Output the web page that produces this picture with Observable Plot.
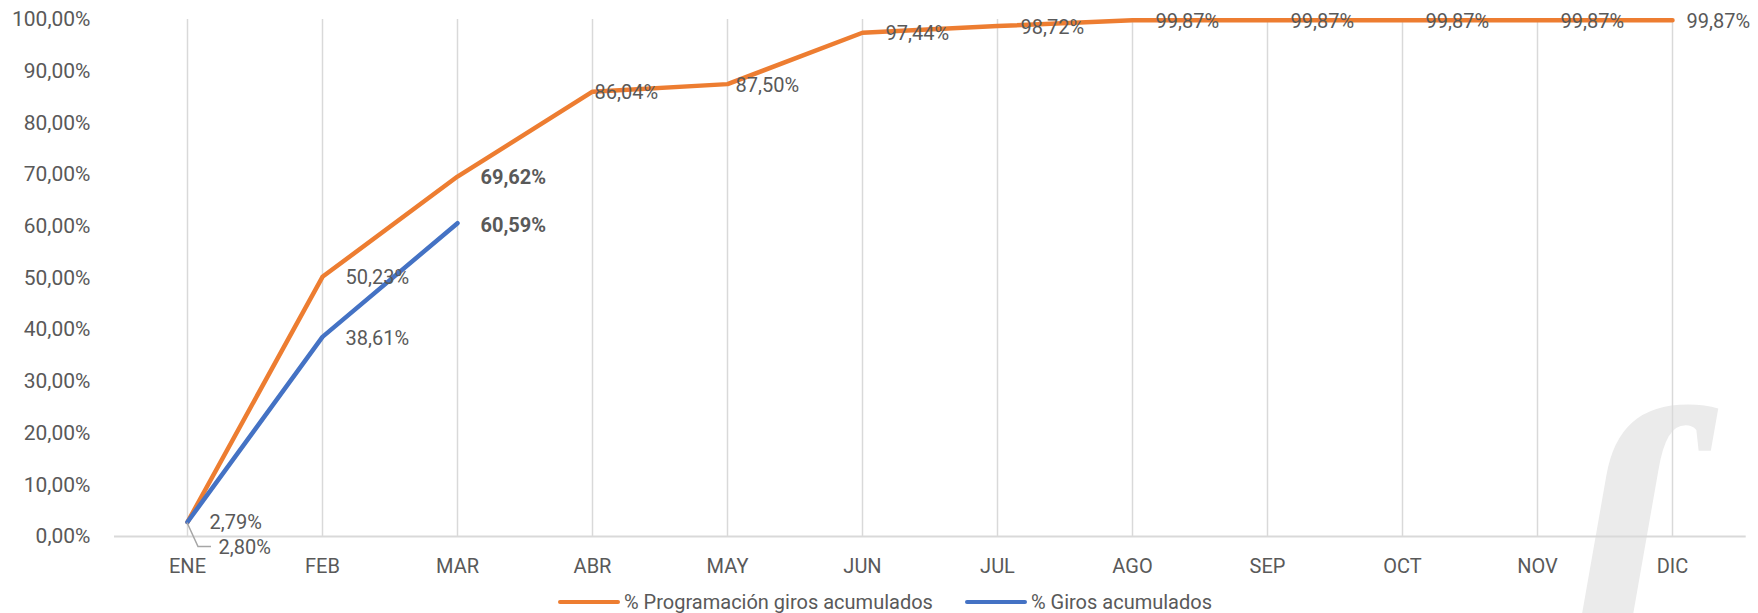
<!DOCTYPE html>
<html>
<head>
<meta charset="utf-8">
<script src="https://cdn.jsdelivr.net/npm/d3@7"></script>
<script src="https://cdn.jsdelivr.net/npm/@observablehq/plot@0.6"></script>
<style>
  html, body { margin: 0; padding: 0; background: #fff; overflow: hidden; }
  body { width: 1758px; height: 613px; position: relative; font-family: Roboto, "Liberation Sans", sans-serif; }
  #wm { position: absolute; left: 1556px; top: 352px; font-family: "Liberation Serif", "DejaVu Serif", serif; font-style: italic; font-weight: bold; font-size: 390px; line-height: 1; color: #ebebeb; z-index: 0; user-select: none; }
  #chart { position: relative; z-index: 1; }
  #chart svg { background: transparent; display: block; }
  #legend { position: relative; z-index: 1; display: flex; justify-content: center; align-items: center; gap: 32px; height: 28px; padding-left: 12px; font-size: 20px; color: #595959; }
  .item { display: flex; align-items: center; gap: 4px; }
  .sw { width: 62px; height: 4px; border-radius: 2px; }
</style>
</head>
<body>
<div id="wm">ſ</div>
<div id="chart"></div>
<div id="legend"></div>
<script>
// ---- data ----
const months = ["ENE", "FEB", "MAR", "ABR", "MAY", "JUN", "JUL", "AGO", "SEP", "OCT", "NOV", "DIC"];
const programacion = [2.79, 50.23, 69.62, 86.04, 87.50, 97.44, 98.72, 99.87, 99.87, 99.87, 99.87, 99.87];
const giros = [2.80, 38.61, 60.59];
const seriesNames = ["% Programación giros acumulados", "% Giros acumulados"];
const seriesColors = ["#ED7D31", "#4472C4"];

// ---- layout / style (not data) ----
const FONT = 'Roboto, "Liberation Sans", sans-serif';
const progLabelOffset = {ENE: [22, 1], ABR: [2, 1], MAY: [8, 1], DIC: [14, 1]};
const progDefault = [23, 1];
const girosLabelOffset = {ENE: [31, 26]};
const girosDefault = [23, 2];
const boldMonth = "MAR";

const fmt = v => v.toFixed(2).replace(".", ",") + "%";

const progRows = programacion.map((v, i) => ({m: months[i], v}));
const girosRows = giros.map((v, i) => ({m: months[i], v}));

function labels(rows, offsets, def) {
  return rows.map(r => {
    const [dx, dy] = offsets[r.m] || def;
    return Plot.text([r], {
      x: "m", y: "v", text: d => fmt(d.v),
      dx, dy, textAnchor: "start", lineAnchor: "middle",
      fill: "#595959", fontSize: 20,
      fontWeight: r.m === boldMonth ? "bold" : "normal"
    });
  });
}

const plot = Plot.plot({
  width: 1758,
  height: 588,
  marginLeft: 114,
  marginRight: 12.3,
  marginTop: 19,
  marginBottom: 52,
  style: {fontFamily: FONT, fontSize: "21px", color: "#595959", background: "transparent", overflow: "visible"},
  x: {type: "point", domain: months, padding: 0.5, label: null, tickSize: 0, tickPadding: 22},
  y: {domain: [0, 100], ticks: 10, tickFormat: d => fmt(d), label: null, tickSize: 0, tickPadding: 24},
  marks: [
    Plot.ruleX(months, {x: d => d, y1: 0, y2: 100, stroke: "#d9d9d9", strokeWidth: 1.5}),
    Plot.ruleY([0], {stroke: "#d9d9d9", strokeWidth: 2}),
    Plot.line(progRows, {x: "m", y: "v", stroke: seriesColors[0], strokeWidth: 4.5, strokeLinejoin: "round", strokeLinecap: "round"}),
    Plot.line(girosRows, {x: "m", y: "v", stroke: seriesColors[1], strokeWidth: 4.5, strokeLinejoin: "round", strokeLinecap: "round"}),
    ...labels(progRows, progLabelOffset, progDefault),
    ...labels(girosRows, girosLabelOffset, girosDefault)
  ]
});

// x tick labels a touch smaller than y tick labels
d3.select(plot).selectAll('[aria-label="x-axis tick label"] text').attr("font-size", 20);

// leader line for the first "Giros" label, positioned through the plot's own scales
const xs = plot.scale("x"), ys = plot.scale("y");
const px = xs.apply(months[0]), py = ys.apply(giros[0]);
d3.select(plot).append("path")
  .attr("d", `M${px},${py + 1}L${px + 11},${py + 25}H${px + 24}`)
  .attr("fill", "none").attr("stroke", "#a6a6a6").attr("stroke-width", 1.5);

document.getElementById("chart").appendChild(plot);

const legend = document.getElementById("legend");
seriesNames.forEach((name, i) => {
  const it = document.createElement("div");
  it.className = "item";
  const sw = document.createElement("div");
  sw.className = "sw";
  sw.style.background = seriesColors[i];
  const t = document.createElement("span");
  t.textContent = name;
  it.appendChild(sw); it.appendChild(t);
  legend.appendChild(it);
});
</script>
</body>
</html>
